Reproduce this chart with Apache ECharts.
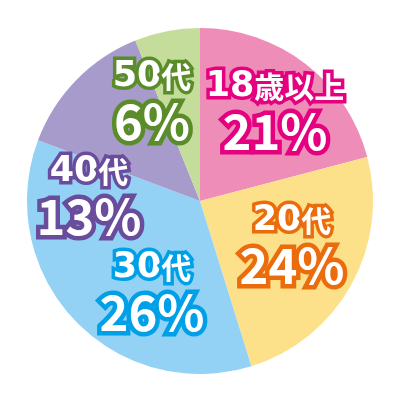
<!DOCTYPE html>
<html>
<head>
<meta charset="utf-8">
<script src="https://cdn.jsdelivr.net/npm/echarts@6/dist/echarts.min.js"></script>
<style>
html, body { margin: 0; padding: 0; background: #fff; }
#chart { width: 400px; height: 400px; }
</style>
</head>
<body>
<div id="chart"></div>
<script>
// categories, shown percentages, and slice sizes
var categories = ['18歳以上', '20代', '30代', '40代', '50代'];
var labelPercents = [21, 24, 26, 13, 6];
var sliceValues = [20.9, 24.3, 35.5, 13.2, 6.1];

var fillColors = ['#ED8DB8', '#FDE18A', '#93D2F5', '#A69BCB', '#C5DD9B'];
var strokeColors = ['#E4007F', '#EB6C0C', '#00A0E9', '#6A4C9C', '#5B8C2A'];
// label centres (px) inside the 400x400 canvas
var labelPos = [[275, 111], [292, 245], [152, 292], [89, 196], [152, 101]];

// split "18歳以上" into digit / non digit runs so each gets its own font
function nameText(name) {
    var runs = name.match(/[0-9]+|[^0-9]+/g);
    var out = '';
    for (var j = 0; j < runs.length; j++) {
        out += (/[0-9]/.test(runs[j]) ? '{d|' : '{k|') + runs[j] + '}';
    }
    return out;
}

var data = [];
for (var i = 0; i < categories.length; i++) {
    var base = {
        color: '#fff', fontWeight: 'bold',
        textBorderColor: strokeColors[i]
    };
    data.push({
        name: categories[i],
        value: sliceValues[i],
        itemStyle: { color: fillColors[i] },
        label: {
            formatter: nameText(categories[i]) + '\n{p|' + labelPercents[i] + '%}',
            rich: {
                d: Object.assign({ fontSize: 35, lineHeight: 40, fontFamily: 'DejaVu Sans', textBorderWidth: 7 }, base),
                k: Object.assign({ fontSize: 30, lineHeight: 40, fontFamily: 'Noto Sans CJK JP', textBorderWidth: 7 }, base),
                p: Object.assign({ fontSize: 49, lineHeight: 48, fontFamily: 'Noto Sans CJK JP', textBorderWidth: 9 }, base)
            }
        }
    });
}

var option = {
    animation: false,
    series: [{
        type: 'pie',
        center: [200, 201],
        radius: 173,
        startAngle: 90,
        clockwise: true,
        itemStyle: { borderWidth: 0 },
        label: { show: true, position: 'inside', align: 'center' },
        labelLine: { show: false },
        labelLayout: function (params) {
            var p = labelPos[params.dataIndex];
            return { x: p[0], y: p[1], align: 'center', verticalAlign: 'middle' };
        },
        data: data
    }]
};

var myChart = echarts.init(document.getElementById('chart'));
myChart.setOption(option);
</script>
</body>
</html>
